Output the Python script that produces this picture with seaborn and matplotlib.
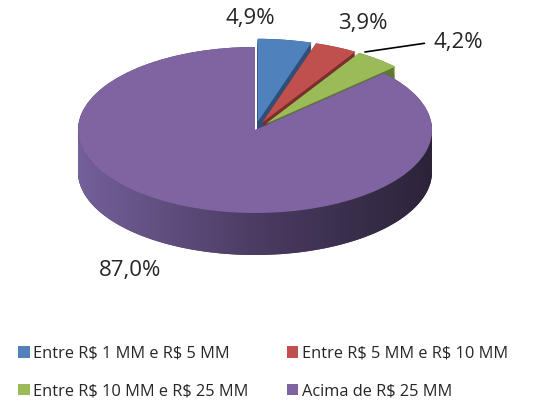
import numpy as np
import matplotlib
matplotlib.use('Agg')
import matplotlib.pyplot as plt
import matplotlib.colors as mcolors
from matplotlib.path import Path
from matplotlib.patches import PathPatch
import seaborn as sns

# dados do gráfico
categorias = ['Entre R$ 1 MM e R$ 5 MM', 'Entre R$ 5 MM e R$ 10 MM',
              'Entre R$ 10 MM e R$ 25 MM', 'Acima de R$ 25 MM']
valores = [4.9, 3.9, 4.2, 87.0]
rotulos = ['4,9%', '3,9%', '4,2%', '87,0%']

cores = ['#4f81bd', '#c0504d', '#9bbb59', '#8064a2']
cores_lado = ['#2f4f7a', '#7a2f2d', '#5f7a2c', '#4a3a60']
explode = [0.1, 0.1, 0.1, 0.0]

sns.set_style('white')
plt.rcParams['font.family'] = ['Open Sans', 'DejaVu Sans']
plt.rcParams['text.parse_math'] = False

fig = plt.figure(figsize=(5.33, 4.03), dpi=100)
ax = fig.add_axes([0, 0, 1, 1])

# escala: 1 unidade = 177 px em x, 83 px em y
px_x, px_y = 177.0, 83.0
cx, cy = 255, 130
prof = 42 / px_y

# lateral (camadas)
for k in np.linspace(prof, 0, 40):
    ax.pie(valores, colors=cores_lado, explode=explode, startangle=90,
           counterclock=False, center=(0, -k), radius=1,
           wedgeprops=dict(linewidth=0), frame=True)

# gradiente na lateral frontal
t = np.linspace(np.pi, 2 * np.pi, 200)
top = np.column_stack([np.cos(t), np.sin(t)])
bot = np.column_stack([np.cos(t[::-1]), np.sin(t[::-1]) - prof])
verts = np.vstack([top, bot, top[:1]])
clip = PathPatch(Path(verts, closed=True), transform=ax.transData,
                 facecolor='none', edgecolor='none')
ax.add_patch(clip)
cmap = mcolors.LinearSegmentedColormap.from_list(
    'lado', ['#74609a', '#4b3c63', '#2c2339'])
grad = np.linspace(0, 1, 256).reshape(1, -1)
im = ax.imshow(grad, cmap=cmap, aspect='auto',
               extent=(-1, 1, -1 - prof, 0), zorder=2)
im.set_clip_path(clip)

# topo
wedges, _ = ax.pie(valores, colors=cores, explode=explode, startangle=90,
                   counterclock=False, center=(0, 0), radius=1,
                   wedgeprops=dict(linewidth=0, zorder=3), frame=True)

ax.set_aspect('auto')
ax.set_xlim(-cx / px_x, (533 - cx) / px_x)
ax.set_ylim(-(403 - cy) / px_y, cy / px_y)
ax.axis('off')

fs = 16
ax.text(-0.028, 1.349, rotulos[0], fontsize=fs, ha='center', va='center', zorder=5)
ax.text(0.610, 1.289, rotulos[1], fontsize=fs, ha='center', va='center', zorder=5)
ax.annotate(rotulos[2], xy=(0.621, 0.94), xytext=(1.147, 1.06),
            fontsize=fs, ha='center', va='center', zorder=5,
            arrowprops=dict(arrowstyle='-', color='black', lw=1.2,
                            shrinkA=4, shrinkB=0, relpos=(0, 0.5)))
ax.text(-0.706, -1.687, rotulos[3], fontsize=fs, ha='center', va='center', zorder=5)

# legenda em ordem por linhas (2 colunas)
ordem = [0, 2, 1, 3]
fig.legend([wedges[i] for i in ordem], [categorias[i] for i in ordem],
           loc='upper left', bbox_to_anchor=(0.034, 0.142),
           ncol=2, frameon=False, fontsize=11.8, handlelength=0.7,
           handleheight=0.7, handletextpad=0.2, columnspacing=2.36,
           labelspacing=1.3, borderpad=0, borderaxespad=0)

fig.savefig('out.png', dpi=100)
